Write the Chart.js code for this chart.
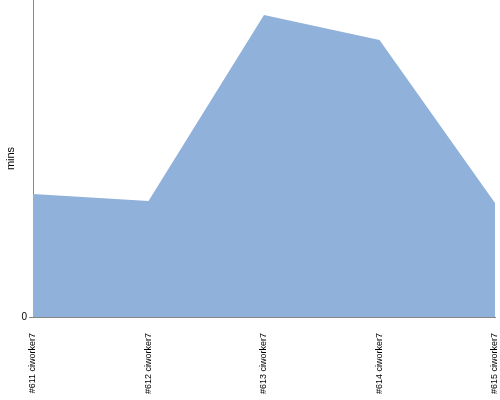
<!DOCTYPE html>
<html><head><meta charset="utf-8">
<script src="https://cdn.jsdelivr.net/npm/chart.js@4/dist/chart.umd.min.js"></script>
<style>html,body{margin:0;padding:0;background:#fff}#w{width:500px;height:400px}</style>
</head><body><div id="w"><canvas id="c"></canvas></div>
<script>
const categories = ["#611 ciworker7", "#612 ciworker7", "#613 ciworker7", "#614 ciworker7", "#615 ciworker7"];
const durations = [12.3, 11.6, 30.2, 27.7, 11.4];
const yTickValues = [0];
const yMax = 31.7;

new Chart(document.getElementById('c'), {
  type: 'line',
  data: {
    labels: categories,
    datasets: [{
      label: 'mins',
      data: durations,
      fill: 'origin',
      backgroundColor: '#8fb1da',
      borderColor: '#8fb1da',
      borderWidth: 0,
      pointRadius: 0,
      tension: 0
    }]
  },
  options: {
    responsive: true,
    maintainAspectRatio: false,
    animation: false,
    layout: { padding: { top: 0, right: 5, left: 0, bottom: 0 } },
    plugins: { legend: { display: false }, tooltip: { enabled: false } },
    scales: {
      x: {
        offset: false,
        grid: { display: true, drawOnChartArea: false, drawTicks: false },
        border: { color: '#888', width: 1 },
        ticks: {
          autoSkip: false, maxRotation: 90, minRotation: 90, padding: 16,
          color: '#000', font: { family: 'Liberation Sans, Arial', size: 9 }
        },
        afterFit: (s) => { s.height = 83; s.paddingLeft = 0; s.paddingRight = 0; }
      },
      y: {
        min: 0, max: yMax,
        afterBuildTicks: (s) => { s.ticks = yTickValues.map(v => ({ value: v })); },
        grid: { display: true, drawOnChartArea: false, drawTicks: true, tickLength: 4, color: '#888' },
        border: { color: '#888', width: 1 },
        ticks: { padding: 2, color: '#000', font: { family: 'Liberation Sans, Arial', size: 10 } },
        title: { display: true, text: 'mins', color: '#000', padding: { top: 4, bottom: 0 }, font: { family: 'Liberation Sans, Arial', size: 11 } },
        afterFit: (s) => { s.width = 33; s.paddingTop = 0; s.paddingBottom = 0; }
      }
    }
  }
});
</script>
</body></html>
